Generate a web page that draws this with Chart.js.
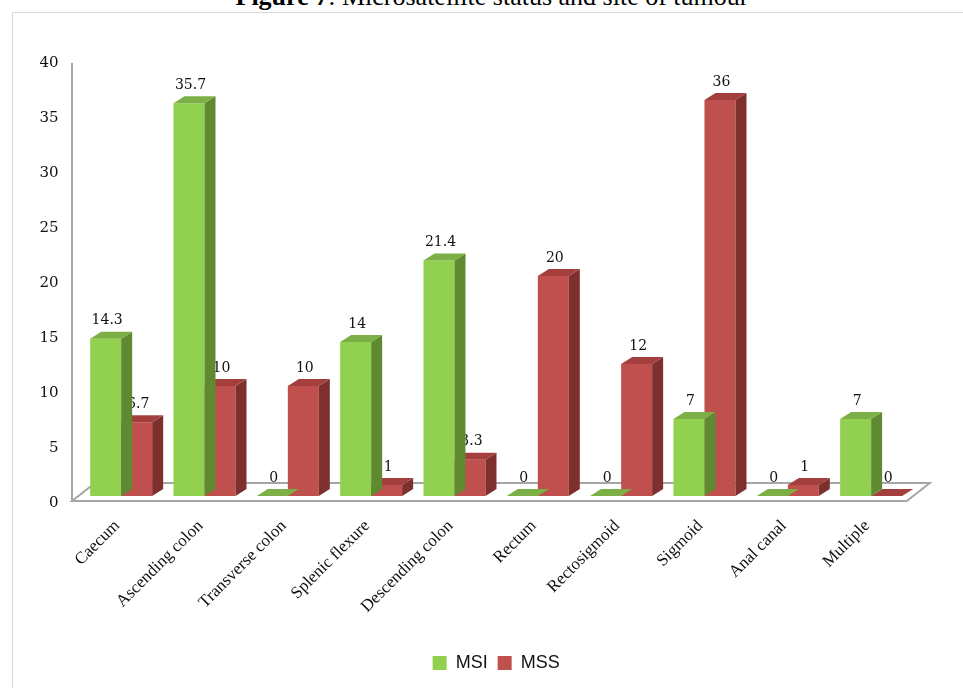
<!DOCTYPE html>
<html lang="en">
<head>
    <meta charset="UTF-8">
    <title>Microsatellite status and site of tumour</title>
    <script src="https://cdn.jsdelivr.net/npm/chart.js"></script>
    <style>
        body { margin: 0; background: #fff; width: 963px; height: 688px; overflow: hidden; position: relative; }
        #title { position: absolute; left: 0; width: 984px; top: -18px; text-align: center;
                 font: 26px "Liberation Serif", "Times New Roman", serif; color: #000; }
        #frame { position: absolute; left: 12px; top: 12px; width: 1000px; height: 700px; border: 1px solid #d9d9d9; }
        #wrap { position: absolute; left: 0; top: 0; width: 963px; height: 688px; }
    </style>
</head>
<body>
    <div id="title"><b>Figure 7</b>: Microsatellite status and site of tumour</div>
    <div id="frame"></div>
    <div id="wrap"><canvas id="chartCanvas" width="963" height="688"></canvas></div>

    <script>
        const sites = ['Caecum', 'Ascending colon', 'Transverse colon', 'Splenic flexure', 'Descending colon',
                       'Rectum', 'Rectosigmoid', 'Sigmoid', 'Anal canal', 'Multiple'];
        const msiValues = [14.3, 35.7, 0, 14, 21.4, 0, 0, 7, 0, 7];
        const mssValues = [6.7, 10, 10, 1, 3.3, 20, 12, 36, 1, 0];
        const yTicks = [0, 5, 10, 15, 20, 25, 30, 35, 40];

        // front / top / side shades for the fake 3D columns
        const shades = [
            { front: '#92d050', top: '#7cb046', side: '#5f8a31' },
            { front: '#c0504d', top: '#a3403d', side: '#7d302e' }
        ];
        const DX = 11, DY = -7;
        const serif = '"Liberation Serif", "Times New Roman", serif';
        const numFont = '"DejaVu Serif", serif';

        function poly(ctx, pts, fill) {
            ctx.beginPath();
            ctx.moveTo(pts[0][0], pts[0][1]);
            for (let i = 1; i < pts.length; i++) ctx.lineTo(pts[i][0], pts[i][1]);
            ctx.closePath();
            ctx.fillStyle = fill;
            ctx.fill();
        }

        // floor + left axis, drawn under the columns
        const floorPlugin = {
            id: 'floor',
            beforeDatasetsDraw(chart) {
                const { ctx, chartArea } = chart;
                const fl = chartArea.left - 7.5, fr = chartArea.right - 6;
                const fy = chartArea.bottom + 5, by = chartArea.bottom - 13;
                ctx.save();
                ctx.beginPath();
                ctx.moveTo(fl, fy);
                ctx.lineTo(fr, fy);
                ctx.lineTo(fr + 23, by);
                ctx.lineTo(fl + 23, by);
                ctx.closePath();
                ctx.fillStyle = '#fff';
                ctx.fill();
                ctx.strokeStyle = '#a6a6a6';
                ctx.lineWidth = 2;
                ctx.stroke();
                ctx.beginPath();
                ctx.moveTo(fl, fy);
                ctx.lineTo(fl, chart.scales.y.getPixelForValue(40) + 7);
                ctx.stroke();
                ctx.restore();
            }
        };

        // side and top faces plus value labels, per dataset so the red columns cover the green sides
        const depthPlugin = {
            id: 'depth',
            afterDatasetDraw(chart, args) {
                const { ctx } = chart;
                const c = shades[args.index];
                const data = chart.data.datasets[args.index].data;
                ctx.save();
                args.meta.data.forEach((bar, i) => {
                    const p = bar.getProps(['x', 'y', 'base', 'width'], true);
                    const l = p.x - p.width / 2, r = p.x + p.width / 2;
                    poly(ctx, [[r, p.y], [r + DX, p.y + DY], [r + DX, p.base + DY], [r, p.base]], c.side);
                    poly(ctx, [[l, p.y], [l + DX, p.y + DY], [r + DX, p.y + DY], [r, p.y]], c.top);
                    ctx.fillStyle = '#111';
                    ctx.font = '14px ' + numFont;
                    ctx.textAlign = 'center';
                    ctx.textBaseline = 'bottom';
                    ctx.fillText(String(data[i]), p.x + 1.5, p.y + DY - 4);
                });
                ctx.restore();
            }
        };

        const ctx = document.getElementById('chartCanvas').getContext('2d');
        new Chart(ctx, {
            type: 'bar',
            data: {
                labels: sites,
                datasets: [
                    { label: 'MSI', data: msiValues, backgroundColor: shades[0].front, borderWidth: 0 },
                    { label: 'MSS', data: mssValues, backgroundColor: shades[1].front, borderWidth: 0 }
                ]
            },
            options: {
                responsive: false,
                animation: false,
                devicePixelRatio: 1,
                layout: { padding: { top: 56, right: 50.2, left: 0, bottom: 6 } },
                datasets: { bar: { categoryPercentage: 0.744, barPercentage: 1 } },
                scales: {
                    x: {
                        grid: { display: false },
                        border: { display: false },
                        ticks: {
                            autoSkip: false, minRotation: 45, maxRotation: 45, padding: 12, labelOffset: -4,
                            color: '#111', font: { family: serif, size: 17 }
                        },
                        afterFit(s) { s.height = 148; }
                    },
                    y: {
                        min: 0, max: 40,
                        grid: { display: false },
                        border: { display: false },
                        afterBuildTicks(s) { s.ticks = yTicks.map(v => ({ value: v })); },
                        ticks: {
                            padding: 13, labelOffset: 7,
                            color: '#111', font: { family: numFont, size: 15 }
                        },
                        afterFit(s) { s.width = 79.5; }
                    }
                },
                plugins: {
                    legend: {
                        position: 'bottom',
                        fullSize: false,
                        labels: {
                            boxWidth: 14, boxHeight: 14, padding: 10,
                            color: '#111', font: { family: '"Liberation Sans", Arial, sans-serif', size: 18 }
                        }
                    },
                    tooltip: { enabled: false }
                }
            },
            plugins: [floorPlugin, depthPlugin]
        });
    </script>
</body>
</html>
